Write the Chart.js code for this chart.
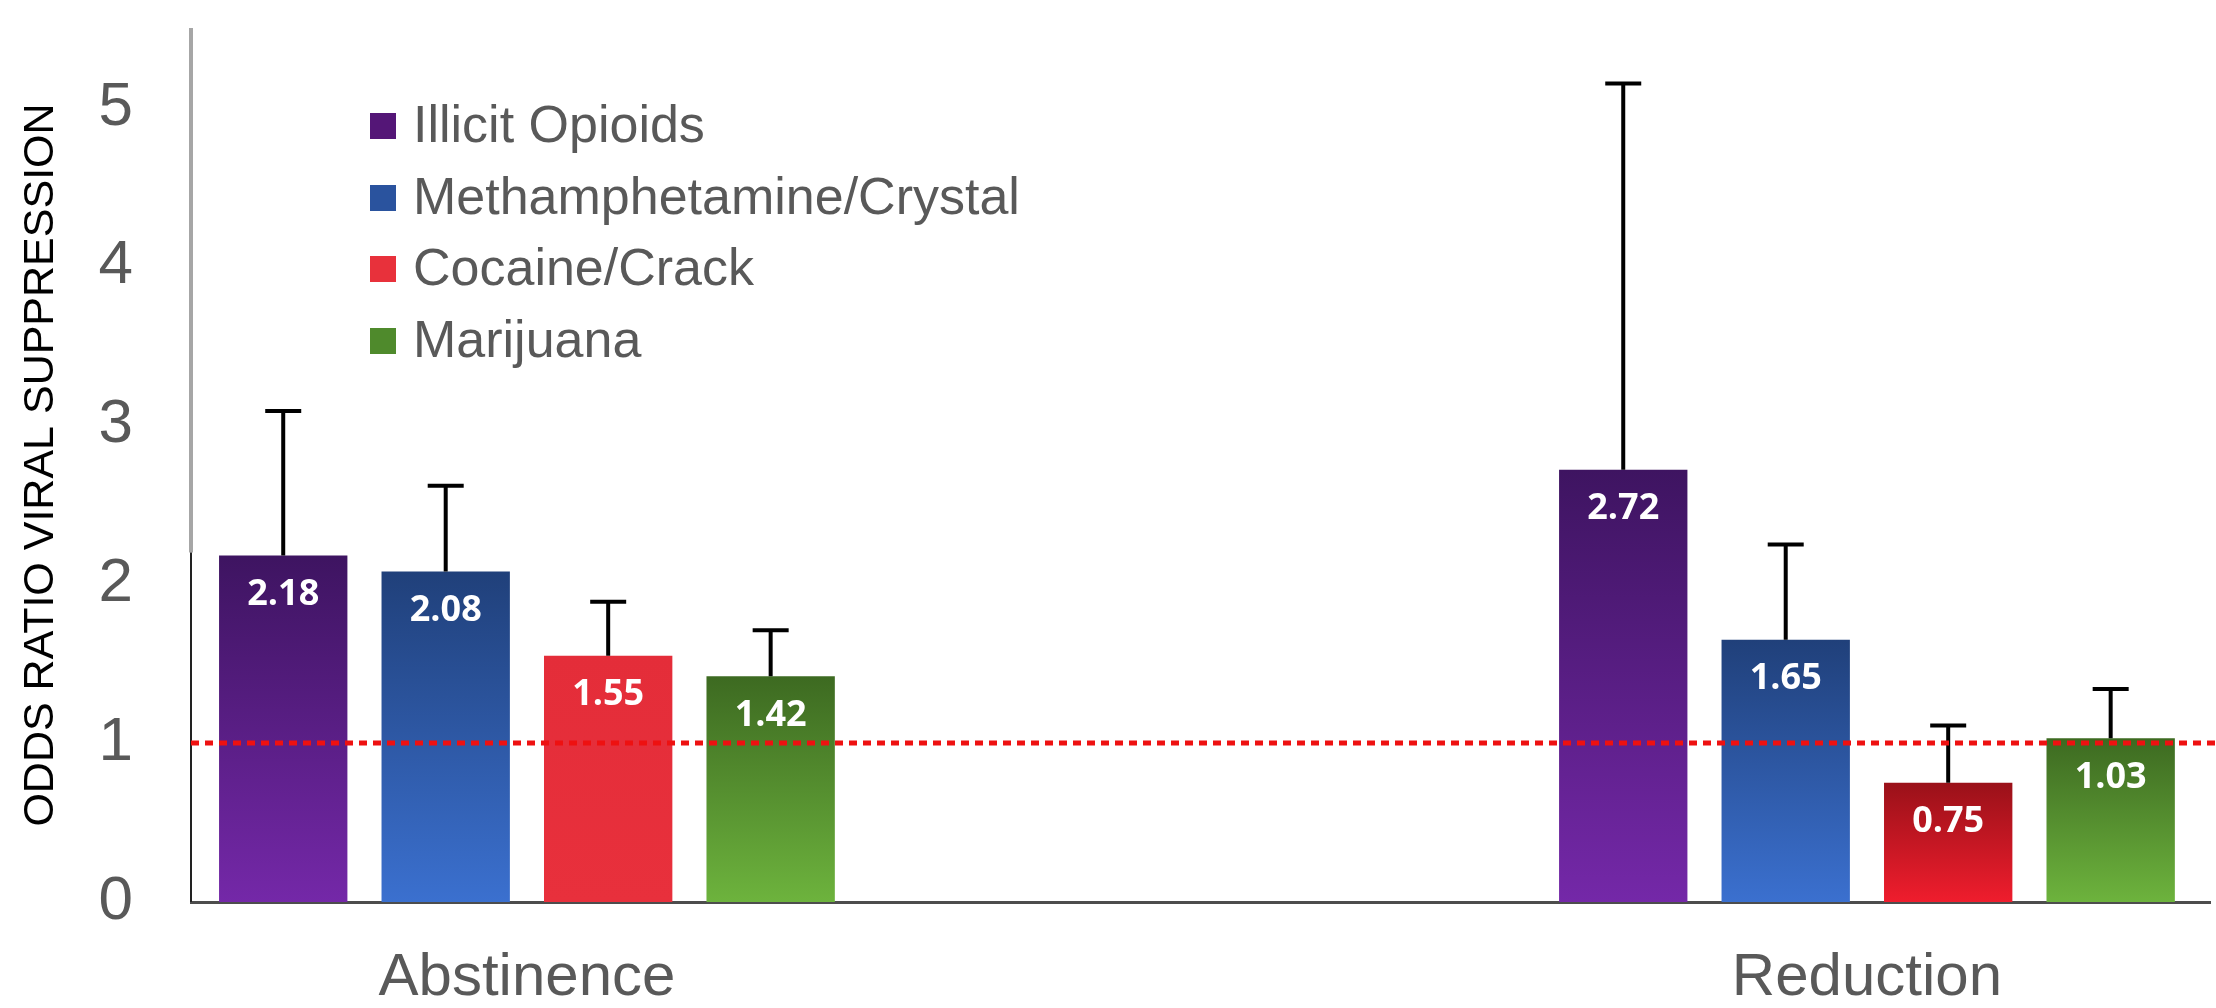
<!DOCTYPE html>
<html>
<head>
<meta charset="utf-8">
<script src="https://cdn.jsdelivr.net/npm/chart.js@4"></script>
<style>
  html, body { margin: 0; padding: 0; background: #ffffff; }
  #wrap { width: 2216px; height: 1008px; position: relative; }
</style>
</head>
<body>
<div id="wrap"><canvas id="c" width="2216" height="1008"></canvas></div>
<script>
// ---- data ----
const categories = ['Abstinence', 'Reduction'];
const seriesLabels = ['Illicit Opioids', 'Methamphetamine/Crystal', 'Cocaine/Crack', 'Marijuana'];
const opioids   = [2.18, 2.72];
const meth      = [2.08, 1.65];
const cocaine   = [1.55, 0.75];
const marijuana = [1.42, 1.03];
const opioidsUpper   = [3.09, 5.15];
const methUpper      = [2.62, 2.25];
const cocaineUpper   = [1.89, 1.11];
const marijuanaUpper = [1.71, 1.34];
const yTicks = [0, 1, 2, 3, 4, 5];
const referenceValue = 1;
const yTitle = 'ODDS RATIO VIRAL SUPPRESSION';

// ---- styles ----
const gradTop    = [['#3e1461', '#3e1461'], ['#20407a', '#20407a'], ['#e42d39', '#9a1119'], ['#3d6a21', '#3d6a21']];
const gradBottom = [['#7428a8', '#7428a8'], ['#3b70cf', '#3b70cf'], ['#e8303c', '#ef1d2d'], ['#6db33d', '#6db33d']];
const legendColors = ['#541677', '#2a539e', '#e8313b', '#4f8a2c'];
const seriesValues = [opioids, meth, cocaine, marijuana];
const seriesUpper = [opioidsUpper, methUpper, cocaineUpper, marijuanaUpper];

function barGradient(ctx) {
  const chart = ctx.chart;
  const ds = ctx.datasetIndex, i = ctx.dataIndex;
  const { chartArea, scales } = chart;
  if (!chartArea || !scales.y || ctx.parsed === undefined) return gradBottom[ds][0];
  const yTop = scales.y.getPixelForValue(ctx.parsed.y);
  const yBot = scales.y.getPixelForValue(0);
  const g = chart.ctx.createLinearGradient(0, yTop, 0, yBot);
  g.addColorStop(0, gradTop[ds][i]);
  g.addColorStop(1, gradBottom[ds][i]);
  return g;
}

const datasets = seriesLabels.map((label, d) => ({
  label,
  data: categories.map((c, i) => ({ x: i, y: seriesValues[d][i] })),
  upper: seriesUpper[d],
  backgroundColor: barGradient,
  borderWidth: 0,
  categoryPercentage: 0.485,
  barPercentage: 0.79
}));

const overlayPlugin = {
  id: 'overlay',
  afterDatasetsDraw(chart) {
    const ctx = chart.ctx;
    const y = chart.scales.y;
    const area = chart.chartArea;
    ctx.save();
    // y axis line: gray upper part, black lower part
    ctx.lineCap = 'butt';
    ctx.strokeStyle = '#a6a6a6';
    ctx.lineWidth = 4;
    ctx.beginPath();
    ctx.moveTo(area.left, area.top);
    ctx.lineTo(area.left, y.getPixelForValue(2.2));
    ctx.stroke();
    ctx.strokeStyle = '#222222';
    ctx.lineWidth = 2;
    ctx.beginPath();
    ctx.moveTo(area.left, y.getPixelForValue(2.2));
    ctx.lineTo(area.left, y.getPixelForValue(0));
    ctx.stroke();

    // error bars
    chart.data.datasets.forEach((ds, d) => {
      const meta = chart.getDatasetMeta(d);
      meta.data.forEach((bar, i) => {
        const yTopPx = y.getPixelForValue(ds.upper[i]);
        ctx.strokeStyle = '#000000';
        ctx.lineWidth = 4;
        ctx.beginPath();
        ctx.moveTo(bar.x, bar.y);
        ctx.lineTo(bar.x, yTopPx);
        ctx.moveTo(bar.x - 18, yTopPx);
        ctx.lineTo(bar.x + 18, yTopPx);
        ctx.stroke();
      });
    });

    // reference dotted line at 1
    const yr = y.getPixelForValue(referenceValue);
    ctx.strokeStyle = '#ee1111';
    ctx.lineWidth = 5;
    ctx.setLineDash([8, 6]);
    ctx.beginPath();
    ctx.moveTo(area.left, yr);
    ctx.lineTo(chart.width, yr);
    ctx.stroke();
    ctx.setLineDash([]);

    // value labels
    ctx.fillStyle = '#ffffff';
    ctx.font = 'bold 36px "Open Sans"';
    ctx.textAlign = 'center';
    ctx.textBaseline = 'middle';
    chart.data.datasets.forEach((ds, d) => {
      const meta = chart.getDatasetMeta(d);
      meta.data.forEach((bar, i) => {
        ctx.fillText(seriesValues[d][i].toFixed(2), bar.x, bar.y + 39);
      });
    });

    // legend
    ctx.textAlign = 'left';
    ctx.textBaseline = 'middle';
    ctx.font = '52px "Liberation Sans"';
    const rows = [126, 198, 269, 341];
    seriesLabels.forEach((label, d) => {
      ctx.fillStyle = legendColors[d];
      ctx.fillRect(370, rows[d] - 13, 26, 26);
      ctx.fillStyle = '#595959';
      ctx.fillText(label, 413, rows[d] + 2);
    });
    ctx.restore();
  }
};

new Chart(document.getElementById('c'), {
  type: 'bar',
  data: { datasets },
  plugins: [overlayPlugin],
  options: {
    responsive: false,
    animation: false,
    devicePixelRatio: 1,
    layout: { padding: { left: 15, right: 6, top: 28, bottom: 0 } },
    plugins: { legend: { display: false }, tooltip: { enabled: false } },
    scales: {
      x: {
        type: 'linear',
        offset: false,
        min: -0.2507,
        max: 1.256,
        grid: { display: false, drawTicks: false },
        border: { display: true, color: '#4d4d4d', width: 3 },
        afterFit(s) { s.height = 106; s.paddingLeft = 0; s.paddingRight = 0; },
        ticks: {
          stepSize: 1,
          includeBounds: false,
          padding: 40,
          color: '#595959',
          font: { family: 'Liberation Sans', size: 60 },
          callback: (v) => (Number.isInteger(v) && categories[v] !== undefined) ? categories[v] : ''
        }
      },
      y: {
        min: 0,
        max: 5.5,
        grid: { display: false, drawTicks: false },
        border: { display: false },
        afterFit(s) { s.width = 176; s.paddingTop = 0; s.paddingBottom = 0; },
        afterBuildTicks(s) { s.ticks = yTicks.map(v => ({ value: v })); },
        ticks: {
          padding: 58,
          color: '#595959',
          font: { family: 'Liberation Sans', size: 62 },
          callback: (v) => String(v)
        },
        title: {
          display: true,
          text: yTitle,
          color: '#000000',
          padding: 0,
          font: { family: 'Liberation Sans', size: 43 }
        }
      }
    }
  }
});
</script>
</body>
</html>
